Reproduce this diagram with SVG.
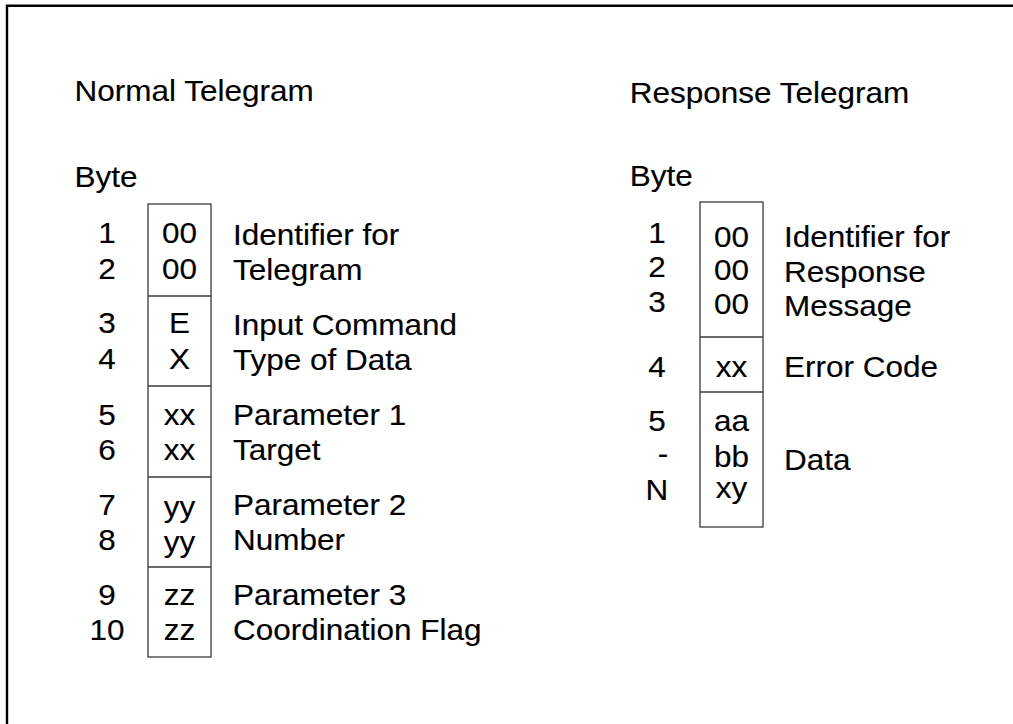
<svg xmlns="http://www.w3.org/2000/svg" width="1013" height="724" viewBox="0 0 1013 724">
<style>
  text { font-family: "Liberation Sans", Arial, sans-serif; font-size: 30px; fill: #000; stroke: #000; stroke-width: 0.15; }
  .c { text-anchor: middle; }
  .box { fill: none; stroke: #3a3a3a; stroke-width: 1.3; }
  .frame { fill: none; stroke: #000; stroke-width: 2.4; }
</style>
<rect width="1013" height="724" fill="#fff"/>
<path class="frame" d="M7,724 V5.8 H1013"/>

<g id="normal-telegram">
  <g id="normal-box">
    <rect class="box" x="148" y="204" width="63" height="453"/>
    <line class="box" x1="148" y1="296" x2="211" y2="296"/>
    <line class="box" x1="148" y1="386" x2="211" y2="386"/>
    <line class="box" x1="148" y1="477" x2="211" y2="477"/>
    <line class="box" x1="148" y1="567" x2="211" y2="567"/>
  </g>
  <g transform="scale(1.05 1)">
    <text x="71.05" y="101">Normal Telegram</text>
    <text x="71.05" y="187">Byte</text>
    <g id="normal-bytes">
      <text class="c" x="101.9" y="243.5">1</text>
      <text class="c" x="101.9" y="279">2</text>
      <text class="c" x="101.9" y="333.5">3</text>
      <text class="c" x="101.9" y="369">4</text>
      <text class="c" x="101.9" y="425">5</text>
      <text class="c" x="101.9" y="460">6</text>
      <text class="c" x="101.9" y="515">7</text>
      <text class="c" x="101.9" y="550">8</text>
      <text class="c" x="101.9" y="605">9</text>
      <text class="c" x="101.9" y="640">10</text>
    </g>
    <g id="normal-values">
      <text class="c" x="170.95" y="243.5">00</text>
      <text class="c" x="170.95" y="279">00</text>
      <text class="c" x="170.95" y="333.5">E</text>
      <text class="c" x="170.95" y="369">X</text>
      <text class="c" x="170.95" y="425">xx</text>
      <text class="c" x="170.95" y="460.5">xx</text>
      <text class="c" x="170.95" y="517">yy</text>
      <text class="c" x="170.95" y="552">yy</text>
      <text class="c" x="170.95" y="605">zz</text>
      <text class="c" x="170.95" y="640">zz</text>
    </g>
    <g id="normal-labels">
      <text x="221.9" y="245">Identifier for</text>
      <text x="221.9" y="280">Telegram</text>
      <text x="221.9" y="335">Input Command</text>
      <text x="221.9" y="370">Type of Data</text>
      <text x="221.9" y="425">Parameter 1</text>
      <text x="221.9" y="460">Target</text>
      <text x="221.9" y="515">Parameter 2</text>
      <text x="221.9" y="550">Number</text>
      <text x="221.9" y="605">Parameter 3</text>
      <text x="221.9" y="640">Coordination Flag</text>
    </g>
  </g>
</g>

<g id="response-telegram">
  <g id="response-box">
    <rect class="box" x="700" y="202" width="63" height="325"/>
    <line class="box" x1="700" y1="337" x2="763" y2="337"/>
    <line class="box" x1="700" y1="392" x2="763" y2="392"/>
  </g>
  <g transform="scale(1.05 1)">
    <text x="599.7" y="103">Response Telegram</text>
    <text x="599.7" y="186">Byte</text>
    <g id="response-bytes">
      <text class="c" x="625.7" y="243">1</text>
      <text class="c" x="625.7" y="277.5">2</text>
      <text class="c" x="625.7" y="312">3</text>
      <text class="c" x="625.7" y="377">4</text>
      <text class="c" x="625.7" y="431">5</text>
      <text class="c" x="631.4" y="464.5">-</text>
      <text class="c" x="625.7" y="500.5">N</text>
    </g>
    <g id="response-values">
      <text class="c" x="696.7" y="247">00</text>
      <text class="c" x="696.7" y="280.5">00</text>
      <text class="c" x="696.7" y="314">00</text>
      <text class="c" x="696.7" y="377">xx</text>
      <text class="c" x="696.7" y="431.5">aa</text>
      <text class="c" x="696.7" y="467">bb</text>
      <text class="c" x="696.7" y="498.5">xy</text>
    </g>
    <g id="response-labels">
      <text x="746.7" y="247">Identifier for</text>
      <text x="746.7" y="282">Response</text>
      <text x="746.7" y="316">Message</text>
      <text x="746.7" y="377">Error Code</text>
      <text x="746.7" y="470">Data</text>
    </g>
  </g>
</g>
</svg>
